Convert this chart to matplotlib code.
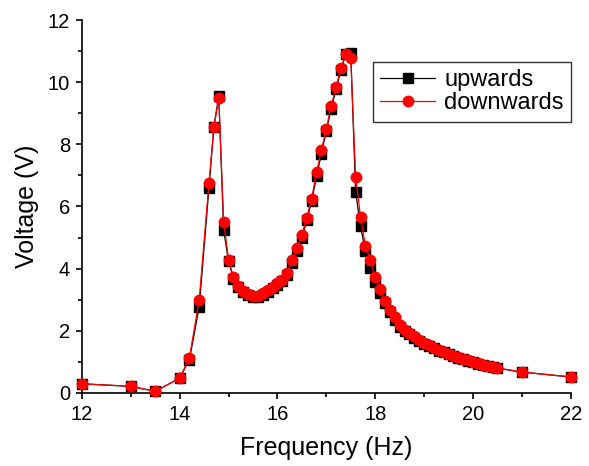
import numpy as np
import matplotlib.pyplot as plt
from matplotlib.ticker import MultipleLocator

plt.rcParams['font.family'] = ['Liberation Sans', 'DejaVu Sans']

# Frecuencias (Hz)
freq = [12.0, 13.0, 13.5, 14.0, 14.2, 14.4, 14.6, 14.7, 14.8, 14.9,
        15.0, 15.1, 15.2, 15.3, 15.4, 15.5, 15.6, 15.7, 15.8, 15.9,
        16.0, 16.1, 16.2, 16.3, 16.4, 16.5, 16.6, 16.7, 16.8, 16.9,
        17.0, 17.1, 17.2, 17.3, 17.4, 17.5, 17.6, 17.7, 17.8, 17.9,
        18.0, 18.1, 18.2, 18.3, 18.4, 18.5, 18.6, 18.7, 18.8, 18.9,
        19.0, 19.1, 19.2, 19.3, 19.4, 19.5, 19.6, 19.7, 19.8, 19.9,
        20.0, 20.1, 20.2, 20.3, 20.4, 20.5, 21.0, 22.0]

# Voltaje barrido hacia arriba (V)
v_up = [0.29, 0.21, 0.05, 0.47, 1.07, 2.77, 6.60, 8.55, 9.57, 5.25,
        4.24, 3.68, 3.40, 3.25, 3.14, 3.09, 3.09, 3.16, 3.26, 3.37,
        3.48, 3.59, 3.80, 4.19, 4.57, 4.99, 5.55, 6.17, 6.97, 7.70,
        8.44, 9.15, 9.78, 10.40, 10.90, 10.94, 6.46, 5.36, 4.56, 4.02,
        3.56, 3.20, 2.90, 2.60, 2.36, 2.13, 1.98, 1.88, 1.78, 1.68,
        1.58, 1.50, 1.43, 1.36, 1.30, 1.24, 1.18, 1.13, 1.08, 1.03,
        0.98, 0.94, 0.90, 0.86, 0.82, 0.79, 0.67, 0.51]

# Voltaje barrido hacia abajo (V)
v_down = [0.29, 0.21, 0.05, 0.47, 1.13, 3.00, 6.76, 8.55, 9.48, 5.51,
          4.29, 3.72, 3.44, 3.29, 3.18, 3.13, 3.13, 3.21, 3.31, 3.42,
          3.53, 3.64, 3.87, 4.29, 4.66, 5.09, 5.63, 6.25, 7.11, 7.81,
          8.50, 9.24, 9.84, 10.46, 10.92, 10.77, 6.95, 5.66, 4.74, 4.26,
          3.72, 3.35, 2.97, 2.68, 2.43, 2.19, 2.03, 1.92, 1.82, 1.71,
          1.61, 1.53, 1.45, 1.39, 1.32, 1.26, 1.20, 1.15, 1.10, 1.05,
          1.00, 0.95, 0.91, 0.87, 0.83, 0.80, 0.67, 0.51]

fig = plt.figure(figsize=(5.89, 4.66), dpi=100)
ax = fig.add_axes([0.139, 0.157, 0.830, 0.800])

ax.plot(freq, v_up, color='black', marker='s', markersize=6.5, linewidth=0.9,
        label='upwards', clip_on=False, zorder=3)
ax.plot(freq, v_down, color='red', marker='o', markersize=7.5, linewidth=0.9,
        label='downwards', clip_on=False, zorder=4)

ax.set_xlim(12, 22)
ax.set_ylim(0, 12)
ax.xaxis.set_major_locator(MultipleLocator(2))
ax.xaxis.set_minor_locator(MultipleLocator(1))
ax.yaxis.set_major_locator(MultipleLocator(2))
ax.yaxis.set_minor_locator(MultipleLocator(1))

ax.spines['top'].set_visible(False)
ax.spines['right'].set_visible(False)
for s in ['left', 'bottom']:
    ax.spines[s].set_linewidth(1.2)
ax.tick_params(which='major', direction='out', length=4.5, width=1.2,
               labelsize=14.5, pad=4)
ax.tick_params(which='minor', direction='out', length=2.8, width=1.2)

ax.set_xlabel('Frequency (Hz)', fontsize=18, labelpad=9)
ax.set_ylabel('Voltage (V)', fontsize=18, labelpad=6)

leg = ax.legend(loc='upper right', bbox_to_anchor=(1.0, 0.887), borderaxespad=0,
                fontsize=17, frameon=True, fancybox=False, shadow=False,
                handlelength=2.3, handletextpad=0.4, borderpad=0.3,
                labelspacing=0.05)
leg.get_frame().set_edgecolor('black')
leg.get_frame().set_linewidth(1.0)

plt.savefig('out.png', dpi=100)
